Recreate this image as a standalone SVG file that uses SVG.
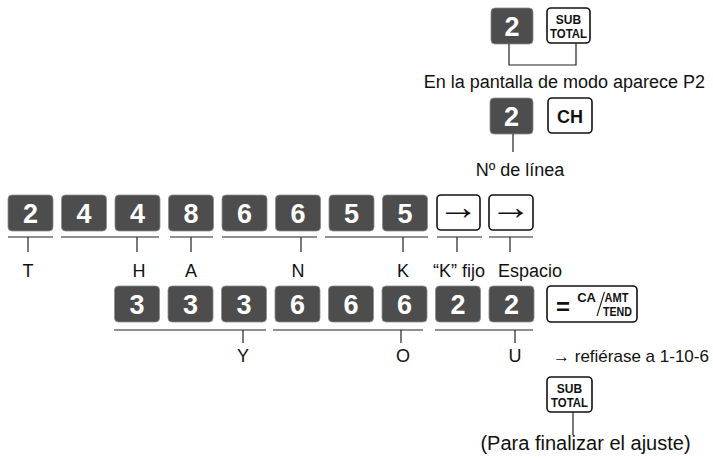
<svg xmlns="http://www.w3.org/2000/svg" width="713" height="459" viewBox="0 0 713 459">
<style>
.dk{fill:#4d4d4d;stroke:#8c8c8c;stroke-width:0.8}
.dt{font-family:"Liberation Sans",Arial,sans-serif;font-weight:bold;font-size:27px;fill:#fff;text-anchor:middle}
.ok{fill:#fff;stroke:#111;stroke-width:1.6}
.kt{font-family:"Liberation Sans",Arial,sans-serif;font-weight:bold;fill:#111;text-anchor:middle}
.st{font-family:"Liberation Sans",Arial,sans-serif;font-weight:bold;font-size:12px;fill:#111;text-anchor:middle}
.ar{font-family:"Liberation Sans",Arial,sans-serif;font-size:36px;fill:#111;text-anchor:middle}
.ln{stroke:#222;stroke-width:1.2;fill:none}
.lb{font-family:"Liberation Sans",Arial,sans-serif;font-size:18px;fill:#111;text-anchor:middle}
</style>
<rect width="713" height="459" fill="#fff"/>
<g id="top">
  <g id="k-top-2"><rect class="dk" x="491" y="8" width="42" height="36" rx="4"/><text class="dt" x="512" y="36">2</text></g>
  <g id="k-top-subtotal"><rect class="ok" x="547" y="8" width="43" height="35" rx="4"/><text class="st" x="568.5" y="23.5">SUB</text><text class="st" x="568.5" y="37.5" textLength="37" lengthAdjust="spacingAndGlyphs">TOTAL</text></g>
  <text id="t-p2" class="lb" x="705" y="88" style="text-anchor:end">En la pantalla de modo aparece P2</text>
</g>
<g id="line">
  <g id="k-line-2"><rect class="dk" x="490" y="98" width="43" height="36" rx="4"/><text class="dt" x="511.5" y="126">2</text></g>
  <g id="k-ch"><rect class="ok" x="548" y="98" width="44" height="35" rx="4"/><text class="kt" font-size="18" x="570" y="122.5">CH</text></g>
  <text id="t-line" class="lb" x="520" y="176">Nº de línea</text>
</g>
<g id="row1">
  <g id="r1k1"><rect class="dk" x="8" y="195" width="45" height="36" rx="4"/><text class="dt" x="30.5" y="222.5">2</text></g>
  <g id="r1k2"><rect class="dk" x="61.5" y="195" width="45" height="36" rx="4"/><text class="dt" x="84" y="222.5">4</text></g>
  <g id="r1k3"><rect class="dk" x="115" y="195" width="45" height="36" rx="4"/><text class="dt" x="137.5" y="222.5">4</text></g>
  <g id="r1k4"><rect class="dk" x="168.5" y="195" width="45" height="36" rx="4"/><text class="dt" x="191" y="222.5">8</text></g>
  <g id="r1k5"><rect class="dk" x="222" y="195" width="45" height="36" rx="4"/><text class="dt" x="244.5" y="222.5">6</text></g>
  <g id="r1k6"><rect class="dk" x="275.5" y="195" width="45" height="36" rx="4"/><text class="dt" x="298" y="222.5">6</text></g>
  <g id="r1k7"><rect class="dk" x="329" y="195" width="45" height="36" rx="4"/><text class="dt" x="351.5" y="222.5">5</text></g>
  <g id="r1k8"><rect class="dk" x="382.5" y="195" width="45" height="36" rx="4"/><text class="dt" x="405" y="222.5">5</text></g>
  <g id="r1k9"><rect class="ok" x="437" y="195" width="43" height="35" rx="4"/><text class="ar" transform="matrix(1.15 0 0 1 458.5 0)" x="0" y="219.5">→</text></g>
  <g id="r1k10"><rect class="ok" x="489" y="195" width="44" height="35" rx="4"/><text class="ar" transform="matrix(1.15 0 0 1 511 0)" x="0" y="219.5">→</text></g>
  <text class="lb" x="28" y="277">T</text>
  <text class="lb" x="139" y="277">H</text>
  <text class="lb" x="191" y="277">A</text>
  <text class="lb" x="298" y="277">N</text>
  <text class="lb" x="403" y="277">K</text>
  <text class="lb" x="459" y="277">“K” fijo</text>
  <text class="lb" x="530" y="277">Espacio</text>
</g>
<g id="row2">
  <g id="r2k1"><rect class="dk" x="114.5" y="286" width="45" height="36" rx="4"/><text class="dt" x="137" y="313.5">3</text></g>
  <g id="r2k2"><rect class="dk" x="168" y="286" width="45" height="36" rx="4"/><text class="dt" x="190.5" y="313.5">3</text></g>
  <g id="r2k3"><rect class="dk" x="221.5" y="286" width="45" height="36" rx="4"/><text class="dt" x="244" y="313.5">3</text></g>
  <g id="r2k4"><rect class="dk" x="275" y="286" width="45" height="36" rx="4"/><text class="dt" x="297.5" y="313.5">6</text></g>
  <g id="r2k5"><rect class="dk" x="328.5" y="286" width="45" height="36" rx="4"/><text class="dt" x="351" y="313.5">6</text></g>
  <g id="r2k6"><rect class="dk" x="382" y="286" width="45" height="36" rx="4"/><text class="dt" x="404.5" y="313.5">6</text></g>
  <g id="r2k7"><rect class="dk" x="435.5" y="286" width="45" height="36" rx="4"/><text class="dt" x="458" y="313.5">2</text></g>
  <g id="r2k8"><rect class="dk" x="489" y="286" width="45" height="36" rx="4"/><text class="dt" x="511.5" y="313.5">2</text></g>
  <g id="k-catend"><rect class="ok" x="547" y="286" width="90" height="36" rx="4"/>
    <text class="kt" font-size="24" x="563" y="315">=</text>
    <text class="kt" font-size="13" x="596" y="302" style="text-anchor:end">CA</text>
    <line class="ln" x1="597" y1="316" x2="604.5" y2="292"/>
    <text class="kt" font-size="13" x="604.5" y="302" style="text-anchor:start" textLength="24" lengthAdjust="spacingAndGlyphs">AMT</text>
    <text class="kt" font-size="13" x="603" y="316" style="text-anchor:start" textLength="29" lengthAdjust="spacingAndGlyphs">TEND</text>
  </g>
  <text class="lb" x="243" y="362">Y</text>
  <text class="lb" x="403" y="362">O</text>
  <text class="lb" x="515" y="362">U</text>
  <text id="t-ref" class="lb" style="font-size:17px;text-anchor:start" x="553" y="362">→ refiérase a 1-10-6</text>
</g>
<g id="final">
  <g id="k-final-subtotal"><rect class="ok" x="547" y="377" width="45" height="35" rx="4"/><text class="st" x="569.5" y="392.5">SUB</text><text class="st" x="569.5" y="406.5" textLength="37" lengthAdjust="spacingAndGlyphs">TOTAL</text></g>
  <text id="t-final" class="lb" style="font-size:20px" x="585.5" y="450">(Para finalizar el ajuste)</text>
</g>
<g id="connectors">
  <path class="ln" d="M509 44 V65 H576 V43"/>
  <path class="ln" d="M513 134 V152"/>
  <path class="ln" d="M8 237 H53 M28 237 V252 M61 237 H159 M137 237 V252 M170 237 H213 M191 237 V252 M222 237 H317 M301 237 V252 M325 237 H428 M403 237 V252 M437 237 H482 M457 237 V252 M489 237 H533 M510 237 V252"/>
  <path class="ln" d="M114 330 H266 M243 330 V343 M273 330 H423 M401 330 V343 M435 330 H533 M515 330 V343"/>
  <path class="ln" d="M573 412 V435"/>
</g>
</svg>
